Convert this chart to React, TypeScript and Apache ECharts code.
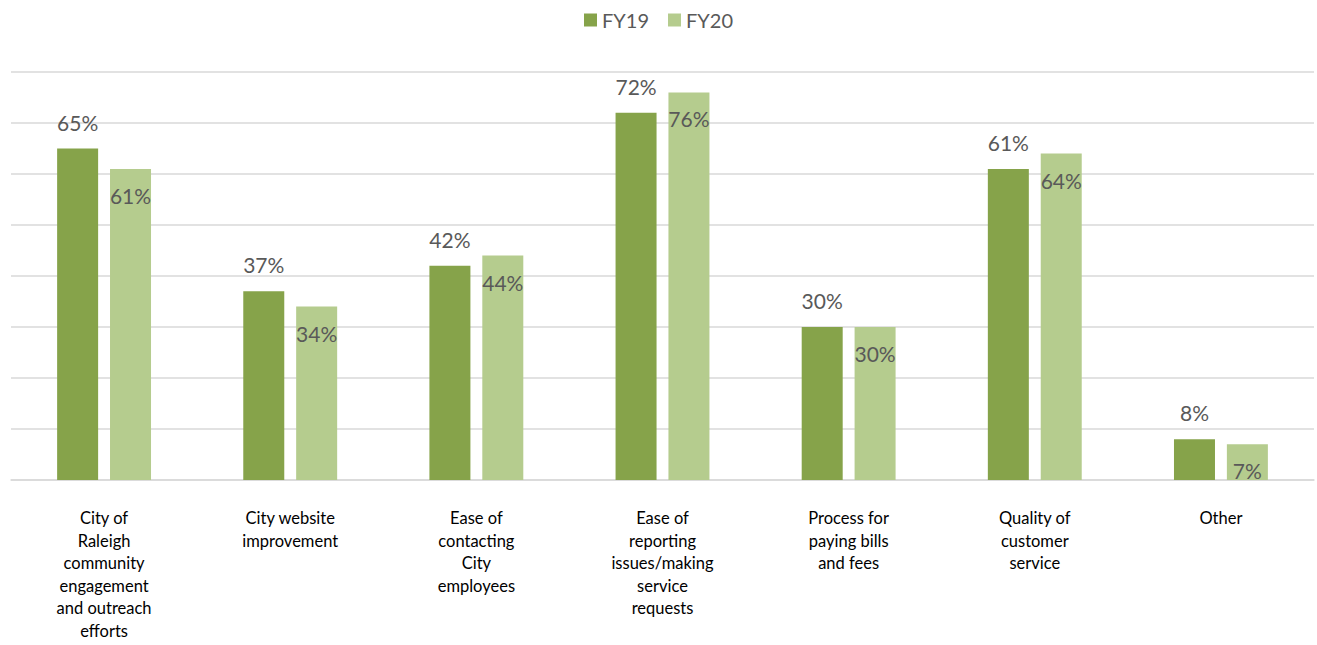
import React, { useEffect, useRef } from "react";
import * as echarts from "echarts";

const categories = [
  "City of\nRaleigh\ncommunity\nengagement\nand outreach\nefforts",
  "City website\nimprovement",
  "Ease of\ncontacting\nCity\nemployees",
  "Ease of\nreporting\nissues/making\nservice\nrequests",
  "Process for\npaying bills\nand fees",
  "Quality of\ncustomer\nservice",
  "Other",
];
const fy19 = [65, 37, 42, 72, 30, 61, 8];
const fy20 = [61, 34, 44, 76, 30, 64, 7];

export default function App() {
  const ref = useRef<HTMLDivElement>(null);
  useEffect(() => {
    document.body.style.margin = "0";
    const chart = echarts.init(ref.current!, null, { renderer: "svg" });
    const font = "Lato, 'Open Sans', sans-serif";
    chart.setOption({
      animation: false,
      textStyle: { fontFamily: font },
      legend: {
        top: 5,
        left: "center",
        itemWidth: 13,
        itemHeight: 13,
        itemGap: 19,
        icon: "rect",
        textStyle: { fontSize: 20, color: "#595959", fontFamily: font },
        data: ["FY19", "FY20"],
      },
      grid: { left: 11, right: 3, top: 72, bottom: 165, containLabel: false },
      xAxis: {
        type: "category",
        data: categories,
        axisLine: { lineStyle: { color: "#d9d9d9", width: 1.5 } },
        axisTick: { show: false },
        axisLabel: {
          interval: 0,
          color: "#000",
          fontSize: 16.5,
          lineHeight: 22.5,
          margin: 27,
          fontFamily: font,
        },
      },
      yAxis: {
        type: "value",
        min: 0,
        max: 80,
        interval: 10,
        axisLabel: { show: false },
        axisLine: { show: false },
        axisTick: { show: false },
        splitLine: { lineStyle: { color: "#d9d9d9", width: 1.5 } },
      },
      series: [
        {
          name: "FY19",
          type: "bar",
          data: fy19,
          barWidth: 41,
          barGap: "29%",
          itemStyle: { color: "#86a34a" },
          label: {
            show: true,
            position: "top",
            distance: 16,
            formatter: "{c}%",
            fontSize: 21,
            color: "#595959",
            fontFamily: font,
          },
        },
        {
          name: "FY20",
          type: "bar",
          data: fy20,
          barWidth: 41,
          itemStyle: { color: "#b5cc8e" },
          label: {
            show: true,
            position: "insideTop",
            distance: 16,
            formatter: "{c}%",
            fontSize: 21,
            color: "#595959",
            fontFamily: font,
          },
        },
      ],
    });
    return () => chart.dispose();
  }, []);
  return <div ref={ref} style={{ width: 1317, height: 645 }} />;
}
